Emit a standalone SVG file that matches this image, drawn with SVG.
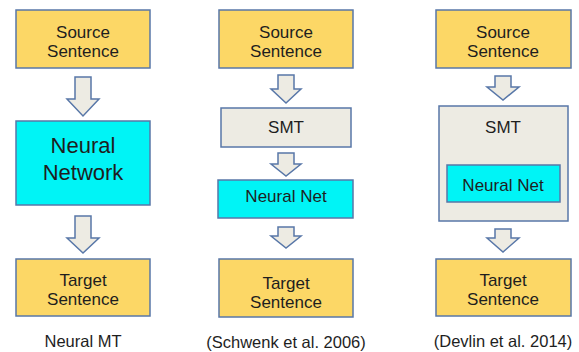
<svg xmlns="http://www.w3.org/2000/svg" width="579" height="352" viewBox="0 0 579 352">
  <defs>
    <style>
      .sent { fill: #FCD766; stroke: #5877A8; stroke-width: 1.5; }
      .nn { fill: #00F4F6; stroke: #5877A8; stroke-width: 1.5; }
      .smt { fill: #EDEBE3; stroke: #5877A8; stroke-width: 1.5; }
      .arrow { fill: #EDEBE3; stroke: #5877A8; stroke-width: 1.5; stroke-linejoin: miter; }
      text { font-family: "Liberation Sans", Arial, sans-serif; fill: #1e1e1e; text-anchor: middle; }
      .t { font-size: 17px; }
      .big { font-size: 22px; }
      .cap { font-size: 16.5px; }
    </style>
  </defs>

  <!-- Column 1: Neural MT -->
  <g id="src1">
    <rect class="sent" x="16" y="10" width="134" height="58"/>
    <text class="t" x="83" y="38">Source</text>
    <text class="t" x="83" y="57">Sentence</text>
  </g>
  <g id="nn1">
    <rect class="nn" x="16" y="121" width="134" height="84"/>
    <text class="big" x="83" y="153">Neural</text>
    <text class="big" x="83" y="180">Network</text>
  </g>
  <g id="tgt1">
    <rect class="sent" x="16" y="259" width="134" height="57"/>
    <text class="t" x="83" y="286">Target</text>
    <text class="t" x="83" y="305">Sentence</text>
  </g>
  <text class="cap" x="83" y="347">Neural MT</text>

  <!-- Column 2: Schwenk et al. 2006 -->
  <g id="src2">
    <rect class="sent" x="219" y="10" width="134" height="58"/>
    <text class="t" x="286" y="38">Source</text>
    <text class="t" x="286" y="57">Sentence</text>
  </g>
  <g id="smt2">
    <rect class="smt" x="221" y="108" width="130" height="39"/>
    <text class="t" x="286" y="133">SMT</text>
  </g>
  <g id="nn2">
    <rect class="nn" x="218" y="180" width="135" height="38"/>
    <text class="t" x="286" y="202">Neural Net</text>
  </g>
  <g id="tgt2">
    <rect class="sent" x="219" y="259" width="134" height="58"/>
    <text class="t" x="286" y="289">Target</text>
    <text class="t" x="286" y="308">Sentence</text>
  </g>
  <text class="cap" x="286" y="348">(Schwenk et al. 2006)</text>

  <!-- Column 3: Devlin et al. 2014 -->
  <g id="src3">
    <rect class="sent" x="436" y="10" width="135" height="58"/>
    <text class="t" x="503" y="38">Source</text>
    <text class="t" x="503" y="57">Sentence</text>
  </g>
  <g id="smt3">
    <rect class="smt" x="439" y="106" width="129" height="115"/>
    <text class="t" x="503" y="133">SMT</text>
  </g>
  <g id="nn3">
    <rect class="nn" x="447" y="165" width="113" height="37"/>
    <text class="t" x="503" y="191">Neural Net</text>
  </g>
  <g id="tgt3">
    <rect class="sent" x="436" y="259" width="135" height="57"/>
    <text class="t" x="503" y="286">Target</text>
    <text class="t" x="503" y="305">Sentence</text>
  </g>
  <text class="cap" x="503" y="347">(Devlin et al. 2014)</text>

  <!-- Block arrows -->
  <g id="connectors">
    <path class="arrow" d="M75 77 H91 V99 H99 L83 116 L67 99 H75 Z"/>
    <path class="arrow" d="M75 216 H91 V238 H99 L83 253 L67 238 H75 Z"/>
    <path class="arrow" d="M278 75 H294 V89 H301 L286 103 L271 89 H278 Z"/>
    <path class="arrow" d="M278 153 H294 V164 H301 L286 176 L271 164 H278 Z"/>
    <path class="arrow" d="M278 227 H294 V236 H301 L286 248 L271 236 H278 Z"/>
    <path class="arrow" d="M495 76 H511 V87 H519 L503 100 L487 87 H495 Z"/>
    <path class="arrow" d="M495 229 H511 V238 H519 L503 252 L487 238 H495 Z"/>
  </g>
</svg>
